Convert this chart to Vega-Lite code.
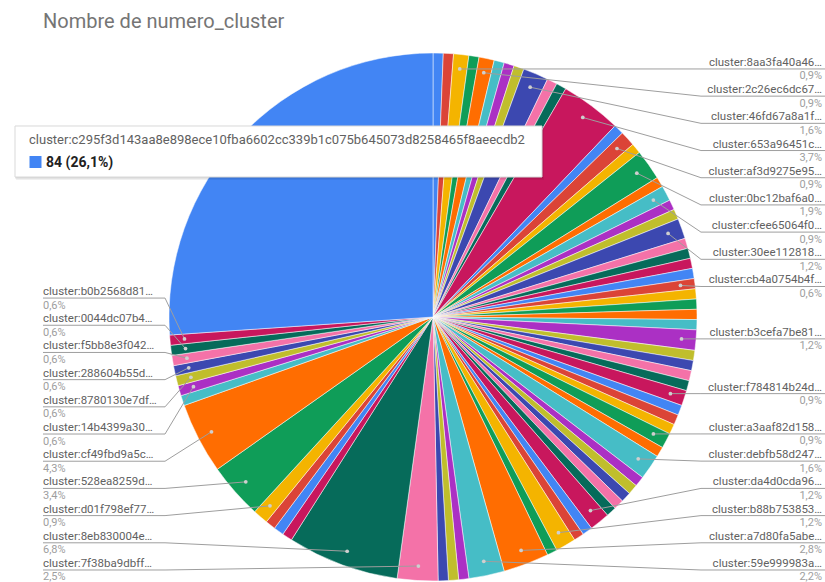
{
  "$schema": "https://vega.github.io/schema/vega-lite/v6.json",
  "width": 784,
  "height": 530,
  "autosize": {"type": "none"},
  "padding": {"left": 41, "top": 52, "right": 0, "bottom": 0},
  "background": "#ffffff",
  "config": {
    "view": {"stroke": null},
    "locale": {"number": {"decimal": ",", "thousands": " ", "grouping": [3], "currency": ["", " €"]}}
  },
  "title": {
    "text": "Nombre de numero_cluster",
    "anchor": "start",
    "frame": "group",
    "orient": "top",
    "offset": 4,
    "baseline": "alphabetic",
    "dx": 2,
    "font": "Roboto",
    "fontSize": 20,
    "fontWeight": "normal",
    "color": "#757575"
  },
  "data": {
    "values": [
      {"id": 1, "n": 2},
      {"id": 2, "n": 2},
      {"id": 3, "n": 3, "name": "cluster:8aa3fa40a46"},
      {"id": 4, "n": 2},
      {"id": 5, "n": 3, "name": "cluster:2c26ec6dc67"},
      {"id": 6, "n": 2},
      {"id": 7, "n": 2},
      {"id": 8, "n": 2},
      {"id": 9, "n": 5, "name": "cluster:46fd67a8a1f"},
      {"id": 10, "n": 2},
      {"id": 11, "n": 2},
      {"id": 12, "n": 12, "name": "cluster:653a96451c"},
      {"id": 13, "n": 2},
      {"id": 14, "n": 3, "name": "cluster:af3d9275e95"},
      {"id": 15, "n": 2},
      {"id": 16, "n": 6, "name": "cluster:0bc12baf6a0"},
      {"id": 17, "n": 2},
      {"id": 18, "n": 3, "name": "cluster:cfee65064f0"},
      {"id": 19, "n": 2},
      {"id": 20, "n": 2},
      {"id": 21, "n": 4, "name": "cluster:30ee112818"},
      {"id": 22, "n": 2},
      {"id": 23, "n": 2},
      {"id": 24, "n": 2},
      {"id": 25, "n": 2},
      {"id": 26, "n": 2, "name": "cluster:cb4a0754b4f"},
      {"id": 27, "n": 2},
      {"id": 28, "n": 2},
      {"id": 29, "n": 2},
      {"id": 30, "n": 2},
      {"id": 31, "n": 4, "name": "cluster:b3cefa7be81"},
      {"id": 32, "n": 2},
      {"id": 33, "n": 2},
      {"id": 34, "n": 2},
      {"id": 35, "n": 2},
      {"id": 36, "n": 3, "name": "cluster:f784814b24d"},
      {"id": 37, "n": 2},
      {"id": 38, "n": 2},
      {"id": 39, "n": 2},
      {"id": 40, "n": 3, "name": "cluster:a3aaf82d158"},
      {"id": 41, "n": 2},
      {"id": 42, "n": 5, "name": "cluster:debfb58d247"},
      {"id": 43, "n": 2},
      {"id": 44, "n": 2},
      {"id": 45, "n": 2},
      {"id": 46, "n": 2},
      {"id": 47, "n": 2},
      {"id": 48, "n": 4, "name": "cluster:da4d0cda96"},
      {"id": 49, "n": 2},
      {"id": 50, "n": 2},
      {"id": 51, "n": 4, "name": "cluster:b88b753853"},
      {"id": 52, "n": 2},
      {"id": 53, "n": 9, "name": "cluster:a7d80fa5abe"},
      {"id": 54, "n": 7, "name": "cluster:59e999983a"},
      {"id": 55, "n": 2},
      {"id": 56, "n": 2},
      {"id": 57, "n": 2},
      {"id": 58, "n": 8, "name": "cluster:7f38ba9dbff"},
      {"id": 59, "n": 22, "name": "cluster:8eb830004e"},
      {"id": 60, "n": 2},
      {"id": 61, "n": 2},
      {"id": 62, "n": 2},
      {"id": 63, "n": 3, "name": "cluster:d01f798ef77"},
      {"id": 64, "n": 11, "name": "cluster:528ea8259d"},
      {"id": 65, "n": 14, "name": "cluster:cf49fbd9a5c"},
      {"id": 66, "n": 2},
      {"id": 67, "n": 2, "name": "cluster:14b4399a30"},
      {"id": 68, "n": 2, "name": "cluster:8780130e7df"},
      {"id": 69, "n": 2, "name": "cluster:288604b55d"},
      {"id": 70, "n": 2, "name": "cluster:f5bb8e3f042"},
      {"id": 71, "n": 2, "name": "cluster:0044dc07b4"},
      {"id": 72, "n": 2, "name": "cluster:b0b2568d81"},
      {"id": 73, "n": 84, "name": "cluster:c295f3d143aa8e898ece10fba6602cc339b1c075b645073d8258465f8aeecdb2"}
    ]
  },
  "layer": [
    {
      "mark": {"type": "arc", "outerRadius": 264, "stroke": "#ffffff", "strokeWidth": 0.5},
      "encoding": {
        "theta": {"field": "n", "type": "quantitative", "stack": true},
        "order": {"field": "id", "type": "quantitative", "sort": "ascending"},
        "color": {
          "field": "id",
          "type": "ordinal",
          "legend": null,
          "scale": {"range": ["#4285F4", "#DB4437", "#F4B400", "#0F9D58", "#FF6D01", "#46BDC6", "#AB30C4", "#C0BE2C", "#3C48B0", "#F472A8", "#066B5A", "#C8175D"]}
        }
      }
    },
    {
      "transform": [
        {"window": [{"op": "sum", "field": "n", "as": "cum"}], "sort": [{"field": "id", "order": "ascending"}], "frame": [null, 0]},
        {"joinaggregate": [{"op": "sum", "field": "n", "as": "total"}, {"op": "max", "field": "n", "as": "nmax"}]},
        {"filter": "isValid(datum.name) && datum.n < datum.nmax"},
        {"calculate": "2*PI*(datum.cum - datum.n/2)/datum.total", "as": "mid"},
        {"calculate": "datum.mid < PI ? 1 : -1", "as": "side"},
        {"calculate": "0.945*sin(datum.mid)", "as": "px"},
        {"calculate": "-0.945*cos(datum.mid)", "as": "py"},
        {"window": [{"op": "row_number", "as": "k"}], "groupby": ["side"], "sort": [{"field": "py", "order": "ascending"}]},
        {"joinaggregate": [{"op": "count", "as": "cnt"}], "groupby": ["side"]},
        {"calculate": "datum.py - 0.103*datum.k", "as": "a"},
        {"window": [{"op": "max", "field": "a", "as": "amax"}], "groupby": ["side"], "sort": [{"field": "py", "order": "ascending"}], "frame": [null, 0]},
        {"window": [{"op": "min", "field": "amax", "as": "bmin"}], "groupby": ["side"], "sort": [{"field": "py", "order": "ascending"}], "frame": [0, null]},
        {"calculate": "0.103*datum.k + min(datum.bmin, 0.9583 - 0.103*datum.cnt)", "as": "ly"},
        {"calculate": "datum.side*1.015", "as": "kx"},
        {"calculate": "datum.side > 0 ? 1.4848 : -1.4773", "as": "ex"},
        {"calculate": "datum.side > 0 ? 1.4735 : -1.4773", "as": "tx"},
        {"calculate": "datum.name + '…'", "as": "label"},
        {"calculate": "datum.n/datum.total", "as": "pct"}
      ],
      "layer": [
        {
          "mark": {"type": "rule", "color": "#9e9e9e", "strokeWidth": 1},
          "encoding": {
            "x": {"field": "px", "type": "quantitative", "axis": null, "scale": {"domain": [-1.48485, 1.48485], "nice": false, "zero": false}},
            "y": {"field": "py", "type": "quantitative", "axis": null, "scale": {"domain": [-1.003788, 1.003788], "reverse": true, "nice": false, "zero": false}},
            "x2": {"field": "kx"},
            "y2": {"field": "ly"}
          }
        },
        {
          "mark": {"type": "rule", "color": "#9e9e9e", "strokeWidth": 1},
          "encoding": {
            "x": {"field": "kx", "type": "quantitative"},
            "x2": {"field": "ex"},
            "y": {"field": "ly", "type": "quantitative"}
          }
        },
        {
          "mark": {"type": "circle", "size": 14, "color": "#cfcfcf", "opacity": 1},
          "encoding": {
            "x": {"field": "px", "type": "quantitative"},
            "y": {"field": "py", "type": "quantitative"}
          }
        },
        {
          "transform": [{"filter": "datum.side > 0"}],
          "mark": {"type": "text", "align": "right", "baseline": "alphabetic", "dy": -3, "font": "Roboto", "fontSize": 11.5, "color": "#616161"},
          "encoding": {
            "x": {"field": "tx", "type": "quantitative"},
            "y": {"field": "ly", "type": "quantitative"},
            "text": {"field": "label"}
          }
        },
        {
          "transform": [{"filter": "datum.side > 0"}],
          "mark": {"type": "text", "align": "right", "baseline": "alphabetic", "dy": 10.5, "font": "Roboto", "fontSize": 11, "color": "#9e9e9e"},
          "encoding": {
            "x": {"field": "tx", "type": "quantitative"},
            "y": {"field": "ly", "type": "quantitative"},
            "text": {"field": "pct", "type": "quantitative", "format": ".1%"}
          }
        },
        {
          "transform": [{"filter": "datum.side < 0"}],
          "mark": {"type": "text", "align": "left", "baseline": "alphabetic", "dy": -3, "font": "Roboto", "fontSize": 11.5, "color": "#616161"},
          "encoding": {
            "x": {"field": "tx", "type": "quantitative"},
            "y": {"field": "ly", "type": "quantitative"},
            "text": {"field": "label"}
          }
        },
        {
          "transform": [{"filter": "datum.side < 0"}],
          "mark": {"type": "text", "align": "left", "baseline": "alphabetic", "dy": 10.5, "font": "Roboto", "fontSize": 11, "color": "#9e9e9e"},
          "encoding": {
            "x": {"field": "tx", "type": "quantitative"},
            "y": {"field": "ly", "type": "quantitative"},
            "text": {"field": "pct", "type": "quantitative", "format": ".1%"}
          }
        }
      ]
    },
    {
      "transform": [
        {"joinaggregate": [{"op": "sum", "field": "n", "as": "total"}, {"op": "max", "field": "n", "as": "nmax"}]},
        {"filter": "datum.n == datum.nmax"},
        {"calculate": "datum.n + ' (' + format(datum.n/datum.total, '.1%') + ')'", "as": "val"}
      ],
      "layer": [
        {
          "mark": {"type": "rect", "fill": "#000000", "opacity": 0.06, "xOffset": 1, "x2Offset": 2, "yOffset": 1, "y2Offset": 3},
          "encoding": {
            "x": {"datum": -1.5833, "type": "quantitative"},
            "x2": {"datum": 0.4129},
            "y": {"datum": -0.7235, "type": "quantitative"},
            "y2": {"datum": -0.5303}
          }
        },
        {
          "mark": {"type": "rect", "fill": "#000000", "opacity": 0.1, "xOffset": 0, "x2Offset": 1, "yOffset": 0, "y2Offset": 1.5},
          "encoding": {
            "x": {"datum": -1.5833, "type": "quantitative"},
            "x2": {"datum": 0.4129},
            "y": {"datum": -0.7235, "type": "quantitative"},
            "y2": {"datum": -0.5303}
          }
        },
        {
          "mark": {"type": "rect", "fill": "#ffffff", "stroke": "#d9d9d9", "strokeWidth": 1},
          "encoding": {
            "x": {"datum": -1.5833, "type": "quantitative"},
            "x2": {"datum": 0.4129},
            "y": {"datum": -0.7235, "type": "quantitative"},
            "y2": {"datum": -0.5303}
          }
        },
        {
          "mark": {"type": "text", "align": "left", "baseline": "alphabetic", "font": "Roboto", "fontSize": 13, "color": "#616161"},
          "encoding": {
            "x": {"datum": -1.5303, "type": "quantitative"},
            "y": {"datum": -0.6553, "type": "quantitative"},
            "text": {"field": "name"}
          }
        },
        {
          "mark": {"type": "square", "size": 144, "opacity": 1},
          "encoding": {
            "x": {"datum": -1.5057, "type": "quantitative"},
            "y": {"datum": -0.5871, "type": "quantitative"},
            "color": {"field": "id", "type": "ordinal", "legend": null}
          }
        },
        {
          "mark": {"type": "text", "align": "left", "baseline": "alphabetic", "font": "Roboto", "fontSize": 14, "fontWeight": "bold", "color": "#212121"},
          "encoding": {
            "x": {"datum": -1.4659, "type": "quantitative"},
            "y": {"datum": -0.5682, "type": "quantitative"},
            "text": {"field": "val"}
          }
        }
      ]
    }
  ]
}
